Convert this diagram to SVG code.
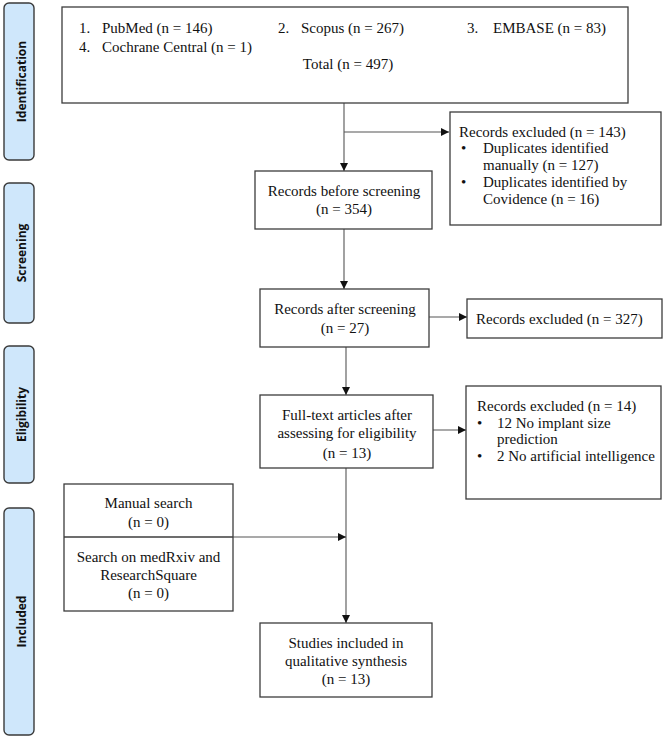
<svg xmlns="http://www.w3.org/2000/svg" width="666" height="739" viewBox="0 0 666 739">
<defs>
<style>
.bg{fill:#ffffff}
.box{fill:#ffffff;stroke:#3c3c3c;stroke-width:1.3}
.phase{fill:#cfe7fb;stroke:#3a3a3a;stroke-width:1.4}
.pt{font-family:"Open Sans","Noto Sans","DejaVu Sans",sans-serif;font-weight:bold;font-size:12px;fill:#111;text-anchor:middle}
.t{font-family:"Liberation Serif","Times New Roman",serif;font-size:15px;fill:#111}
.c{text-anchor:middle}
.ln{fill:none;stroke:#555;stroke-width:1.1}
</style>
<marker id="ah" viewBox="0 0 8 8" refX="8" refY="4" markerWidth="8" markerHeight="8" markerUnits="userSpaceOnUse" orient="auto">
<path d="M0,0 L8,4 L0,8 z" fill="#111"/>
</marker>
</defs>
<rect class="bg" x="0" y="0" width="666" height="739"/>

<g id="phase-identification">
<rect class="phase" x="4" y="3" width="30" height="157" rx="5"/>
<text class="pt" x="25.5" y="81.5" transform="rotate(-90 25.5 81.5)">Identification</text>
</g>
<g id="phase-screening">
<rect class="phase" x="4" y="183" width="30" height="140" rx="5"/>
<text class="pt" x="25.5" y="253" transform="rotate(-90 25.5 253)">Screening</text>
</g>
<g id="phase-eligibility">
<rect class="phase" x="4" y="346" width="30" height="137" rx="5"/>
<text class="pt" x="25.5" y="414.5" transform="rotate(-90 25.5 414.5)">Eligibility</text>
</g>
<g id="phase-included">
<rect class="phase" x="4" y="508" width="30" height="227" rx="5"/>
<text class="pt" x="25.5" y="621.5" transform="rotate(-90 25.5 621.5)">Included</text>
</g>

<g id="connectors">
<line class="ln" x1="344" y1="103" x2="344" y2="171" marker-end="url(#ah)"/>
<line class="ln" x1="344" y1="132" x2="449" y2="132" marker-end="url(#ah)"/>
<line class="ln" x1="344" y1="229" x2="344" y2="289" marker-end="url(#ah)"/>
<line class="ln" x1="429" y1="317" x2="467" y2="317" marker-end="url(#ah)"/>
<line class="ln" x1="346" y1="347" x2="346" y2="395" marker-end="url(#ah)"/>
<line class="ln" x1="433" y1="430" x2="466" y2="430" marker-end="url(#ah)"/>
<line class="ln" x1="346" y1="468" x2="346" y2="623" marker-end="url(#ah)"/>
<line class="ln" x1="233" y1="537" x2="346" y2="537" marker-end="url(#ah)"/>
</g>

<g id="sources">
<rect class="box" x="62" y="7" width="566" height="96"/>
<text class="t" y="33"><tspan x="79">1.</tspan><tspan x="102">PubMed (n = 146)</tspan><tspan x="278">2.</tspan><tspan x="301">Scopus (n = 267)</tspan><tspan x="467">3.</tspan><tspan x="493">EMBASE (n = 83)</tspan></text>
<text class="t" y="52"><tspan x="79">4.</tspan><tspan x="102">Cochrane Central (n = 1)</tspan></text>
<text class="t c" x="348" y="69">Total (n = 497)</text>
</g>

<g id="excluded-duplicates">
<rect class="box" x="450" y="112" width="211" height="113"/>
<text class="t" x="459" y="137">Records excluded (n = 143)</text>
<text class="t"><tspan x="461" y="153">•</tspan><tspan x="483" y="153">Duplicates identified</tspan><tspan x="483" y="170">manually (n = 127)</tspan><tspan x="461" y="187">•</tspan><tspan x="483" y="187">Duplicates identified by</tspan><tspan x="483" y="204">Covidence (n = 16)</tspan></text>
</g>

<g id="before-screening">
<rect class="box" x="255" y="171" width="177" height="58"/>
<text class="t c" x="344" y="196">Records before screening</text>
<text class="t c" x="344" y="214">(n = 354)</text>
</g>

<g id="after-screening">
<rect class="box" x="260" y="289" width="169" height="58"/>
<text class="t c" x="345" y="314">Records after screening</text>
<text class="t c" x="345" y="333">(n = 27)</text>
</g>

<g id="excluded-screening">
<rect class="box" x="467" y="299" width="195" height="39"/>
<text class="t" x="476" y="324">Records excluded (n = 327)</text>
</g>

<g id="full-text">
<rect class="box" x="260" y="395" width="173" height="73"/>
<text class="t c" x="347" y="420">Full-text articles after</text>
<text class="t c" x="347" y="438">assessing for eligibility</text>
<text class="t c" x="347" y="458">(n = 13)</text>
</g>

<g id="excluded-eligibility">
<rect class="box" x="466" y="386" width="195" height="113"/>
<text class="t" x="477" y="411">Records excluded (n = 14)</text>
<text class="t"><tspan x="477" y="428">•</tspan><tspan x="497" y="428">12 No implant size</tspan><tspan x="497" y="444">prediction</tspan><tspan x="477" y="461">•</tspan><tspan x="497" y="461">2 No artificial intelligence</tspan></text>
</g>

<g id="other-sources">
<rect class="box" x="64" y="484" width="169" height="127"/>
<line class="box" x1="64" y1="537" x2="233" y2="537"/>
<text class="t c" x="148.5" y="508">Manual search</text>
<text class="t c" x="148.5" y="527">(n = 0)</text>
<text class="t c" x="148.5" y="562">Search on medRxiv and</text>
<text class="t c" x="148.5" y="580">ResearchSquare</text>
<text class="t c" x="148.5" y="598">(n = 0)</text>
</g>

<g id="included">
<rect class="box" x="260" y="623" width="172" height="74"/>
<text class="t c" x="346" y="648">Studies included in</text>
<text class="t c" x="346" y="666">qualitative synthesis</text>
<text class="t c" x="346" y="684">(n = 13)</text>
</g>
</svg>
